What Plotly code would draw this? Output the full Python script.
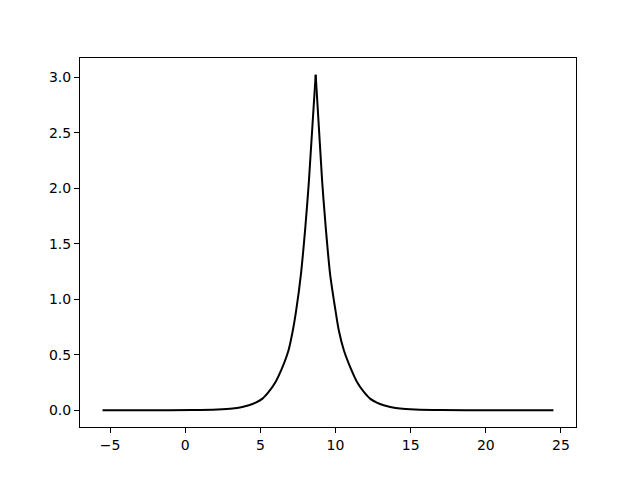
import plotly.graph_objects as go

# curve points (sharp peak near x=8.7)
left_x = [-5.5, -2.5, 0.5, 2.14, 3.14, 3.80, 4.24, 4.69, 5.14, 5.58, 6.03, 6.38,
          6.87, 7.16, 7.38, 7.70, 7.99, 8.23, 8.68]
left_y = [0.0, 0.0003, 0.002, 0.007, 0.015, 0.03, 0.045, 0.069, 0.105, 0.17, 0.26,
          0.359, 0.539, 0.719, 0.898, 1.228, 1.647, 2.066, 3.025]
right_x = [8.68, 9.11, 9.35, 9.64, 10.0, 10.22, 10.56, 11.07, 11.41, 11.86, 12.30,
           12.75, 13.2, 13.64, 14.3, 15.3, 17.0, 20.0, 24.5]
right_y = [3.025, 2.066, 1.647, 1.228, 0.898, 0.719, 0.539, 0.359, 0.26, 0.17,
           0.105, 0.069, 0.045, 0.03, 0.015, 0.007, 0.002, 0.0003, 0.0]

x_ticks = [-5, 0, 5, 10, 15, 20, 25]
y_ticks = [0.0, 0.5, 1.0, 1.5, 2.0, 2.5, 3.0]

fig = go.Figure()
# two halves so the spline keeps the sharp peak
for xs, ys in [(left_x, left_y), (right_x, right_y)]:
    fig.add_trace(go.Scatter(x=xs, y=ys, mode="lines",
                             line=dict(color="black", width=2, shape="spline",
                                       smoothing=0.8)))

axis_style = dict(showline=True, linecolor="black", linewidth=1, mirror=True,
                  showgrid=False, zeroline=False, ticks="outside", ticklen=5,
                  tickwidth=1, tickcolor="black")

fig.update_xaxes(range=[-7.0, 26.0], tickvals=x_ticks,
                 ticktext=[str(t).replace("-", "\u2212") for t in x_ticks],
                 **axis_style)
fig.update_yaxes(range=[-0.151, 3.176], tickvals=y_ticks,
                 ticktext=[f"{t:.1f}" for t in y_ticks], **axis_style)

# page body adds 8px, so margins are shifted to match
fig.update_layout(width=640, height=480, showlegend=False,
                  plot_bgcolor="white", paper_bgcolor="white",
                  margin=dict(l=72, r=72, t=50, b=61),
                  font=dict(family="DejaVu Sans", size=14, color="black"))

fig.write_html("out.html")
